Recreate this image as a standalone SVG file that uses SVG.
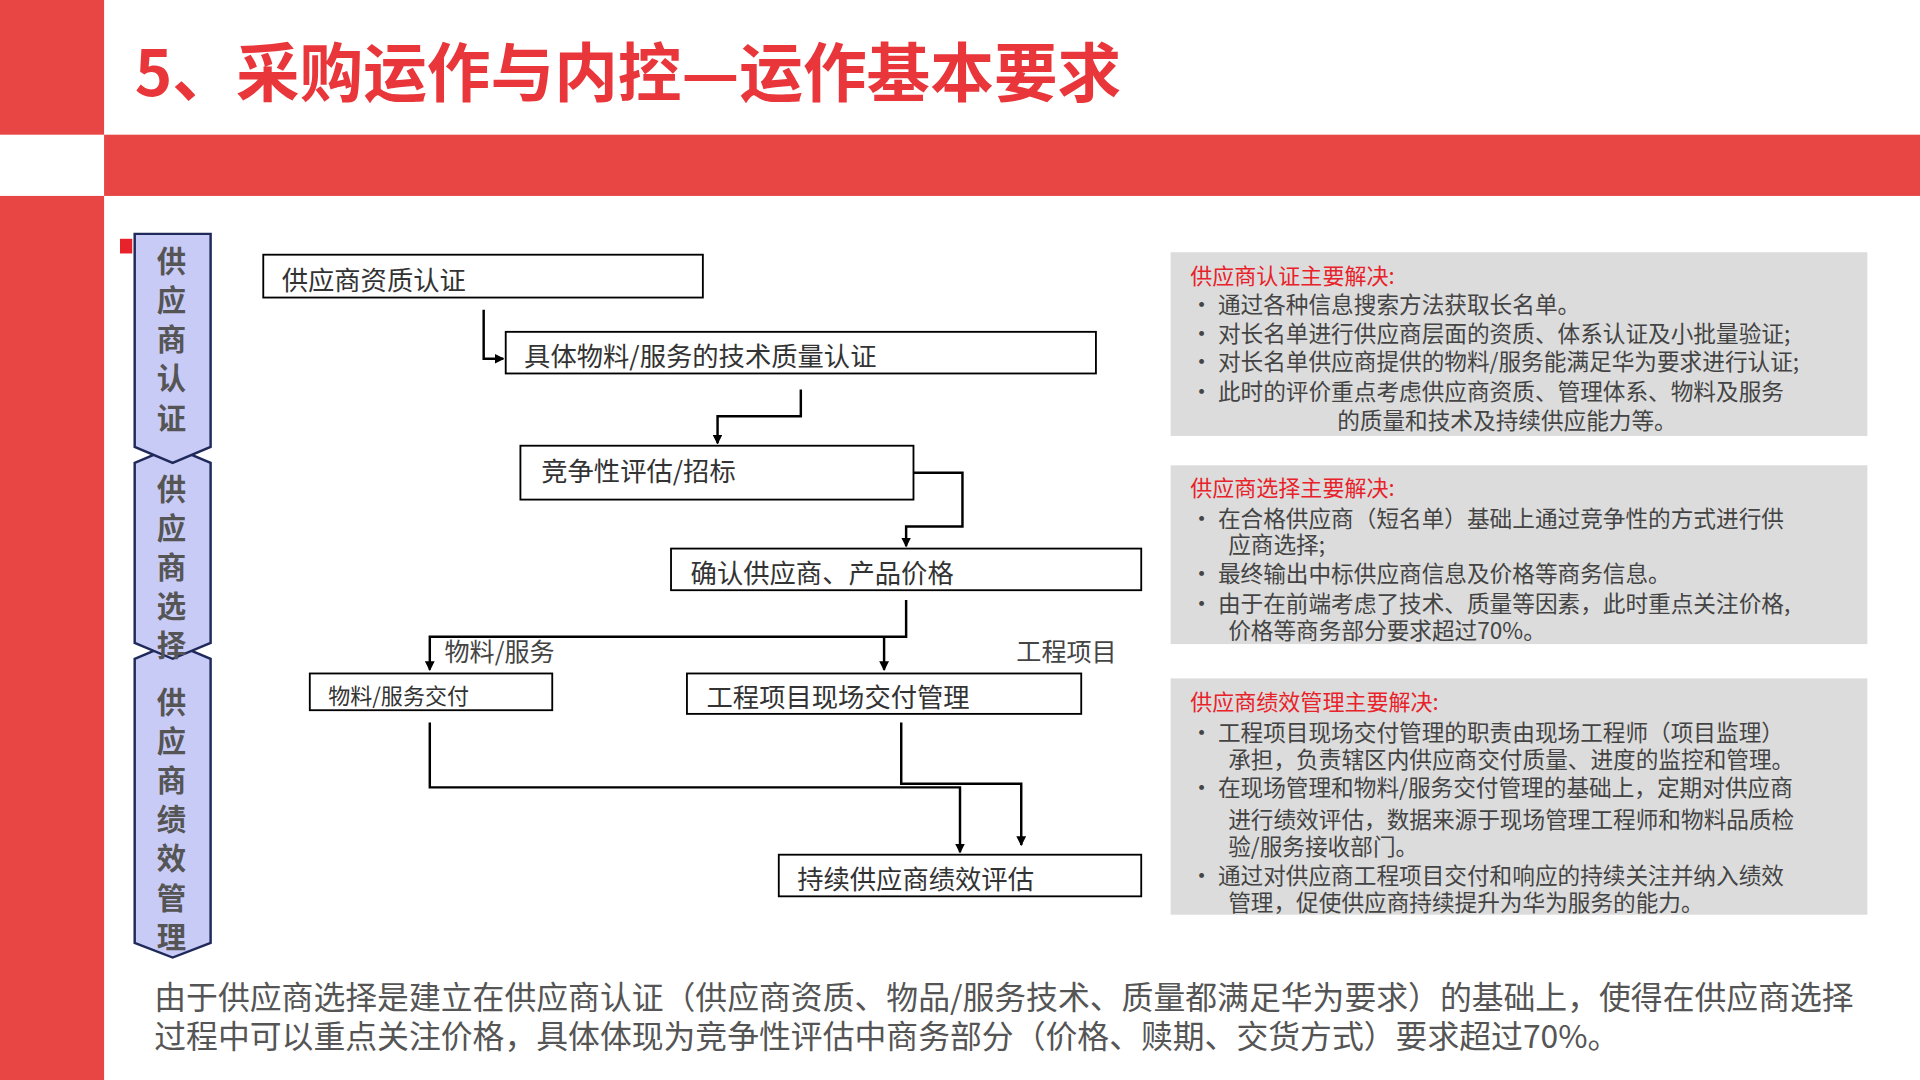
<svg xmlns="http://www.w3.org/2000/svg" width="1920" height="1080" viewBox="0 0 1920 1080">
<defs>
<marker id="ar" markerWidth="8" markerHeight="8" refX="7" refY="4" orient="auto" markerUnits="userSpaceOnUse"><path d="M0,0 L8,4 L0,8 z" fill="#000"/></marker>
<style>
text{font-family:"Noto Sans CJK SC","Liberation Sans",sans-serif}
.box{fill:#fff;stroke:#000;stroke-width:1.5}
.bt{font-size:21.5px;fill:#333}
.ln{fill:none;stroke:#000;stroke-width:2}
.chev{fill:#C9CBF7;stroke:#1F2A5A;stroke-width:2}
.ct{font-size:24px;font-weight:bold;fill:#555;text-anchor:middle}
.pan{fill:#DCDCDC}
.ph{font-size:18px;fill:#E8222A}
.pt{font-size:18.5px;fill:#444}
</style>
</defs>
<rect width="1920" height="1080" fill="#fff"/>
<g transform="scale(1.2245)">
<rect x="0" y="0" width="85" height="110" fill="#E84545"/>
<rect x="0" y="160" width="85" height="722" fill="#E84545"/>
<rect x="85" y="110" width="1483" height="50" fill="#E84545"/>
<text x="110" y="78" font-size="52" font-weight="bold" fill="#E8363A">5、采购运作与内控—运作基本要求</text>
<rect x="98" y="195" width="10" height="12" fill="#E8222A"/>
<g id="stage3"><path class="chev" d="M110,538 L141,525 L172,538 V770 L141,782 L110,770 Z"/></g>
<g id="stage2"><path class="chev" d="M110,378 L141,365 L172,378 V525 L141,538 L110,525 Z"/></g>
<g id="stage1"><path class="chev" d="M110,191 H172 V365 L141,378 L110,365 Z"/></g>
<text class="ct"><tspan x="140" y="222">供</tspan><tspan x="140" y="254">应</tspan><tspan x="140" y="286">商</tspan><tspan x="140" y="318">认</tspan><tspan x="140" y="350">证</tspan></text>
<text class="ct"><tspan x="140" y="408">供</tspan><tspan x="140" y="440">应</tspan><tspan x="140" y="472">商</tspan><tspan x="140" y="504">选</tspan><tspan x="140" y="536">择</tspan></text>
<text class="ct"><tspan x="140" y="582">供</tspan><tspan x="140" y="614">应</tspan><tspan x="140" y="646">商</tspan><tspan x="140" y="678">绩</tspan><tspan x="140" y="710">效</tspan><tspan x="140" y="742">管</tspan><tspan x="140" y="774">理</tspan></text>
<g id="connectors">
<path class="ln" d="M395,253 V293 H411" marker-end="url(#ar)"/>
<path class="ln" d="M654,318 V340 H586 V362" marker-end="url(#ar)"/>
<path class="ln" d="M746,386 H786 V430 H740 V446" marker-end="url(#ar)"/>
<path class="ln" d="M740,490 V520 H351 V547" marker-end="url(#ar)"/>
<path class="ln" d="M722,520 V547" marker-end="url(#ar)"/>
<path class="ln" d="M351,590 V643 H784 V696" marker-end="url(#ar)"/>
<path class="ln" d="M736,590 V640 H834 V690" marker-end="url(#ar)"/>
<text x="363" y="540" font-size="20.5" fill="#444">物料/服务</text>
<text x="830" y="540" font-size="20.5" fill="#444">工程项目</text>
</g>
<g id="n1"><rect class="box" x="215" y="208" width="359" height="35"/><text class="bt" x="230" y="237">供应商资质认证</text></g>
<g id="n2"><rect class="box" x="413" y="271" width="482" height="34"/><text class="bt" x="428" y="299">具体物料/服务的技术质量认证</text></g>
<g id="n3"><rect class="box" x="425" y="364" width="321" height="44"/><text class="bt" x="442" y="393">竞争性评估/招标</text></g>
<g id="n4"><rect class="box" x="548" y="448" width="384" height="34"/><text class="bt" x="564" y="476">确认供应商、产品价格</text></g>
<g id="n5"><rect class="box" x="253" y="550" width="198" height="30"/><text x="268" y="575" font-size="18" fill="#333">物料/服务交付</text></g>
<g id="n6"><rect class="box" x="561" y="550" width="322" height="33"/><text class="bt" x="577" y="577">工程项目现场交付管理</text></g>
<g id="n7"><rect class="box" x="636" y="698" width="296" height="34"/><text class="bt" x="651" y="726">持续供应商绩效评估</text></g>
<g id="p1"><rect class="pan" x="956" y="206" width="569" height="150"/>
<text class="ph" x="972" y="232">供应商认证主要解决:</text>
<text class="pt"><tspan x="972" y="256">•    通过各种信息搜索方法获取长名单。</tspan><tspan x="972" y="279">•    对长名单进行供应商层面的资质、体系认证及小批量验证;</tspan><tspan x="972" y="302">•    对长名单供应商提供的物料/服务能满足华为要求进行认证;</tspan><tspan x="972" y="327">•    此时的评价重点考虑供应商资质、管理体系、物料及服务</tspan><tspan x="1092" y="350">的质量和技术及持续供应能力等。</tspan></text></g>
<g id="p2"><rect class="pan" x="956" y="380" width="569" height="146"/>
<text class="ph" x="972" y="405">供应商选择主要解决:</text>
<text class="pt"><tspan x="972" y="430">• 在合格供应商（短名单）基础上通过竞争性的方式进行供</tspan><tspan x="1003" y="452">应商选择;</tspan><tspan x="972" y="475">•    最终输出中标供应商信息及价格等商务信息。</tspan><tspan x="972" y="500">• 由于在前端考虑了技术、质量等因素，此时重点关注价格,</tspan><tspan x="1003" y="522">价格等商务部分要求超过70%。</tspan></text></g>
<g id="p3"><rect class="pan" x="956" y="554" width="569" height="193"/>
<text class="ph" x="972" y="580">供应商绩效管理主要解决:</text>
<text class="pt"><tspan x="972" y="605">• 工程项目现场交付管理的职责由现场工程师（项目监理）</tspan><tspan x="1003" y="627">承担，负责辖区内供应商交付质量、进度的监控和管理。</tspan><tspan x="972" y="650">•    在现场管理和物料/服务交付管理的基础上，定期对供应商</tspan><tspan x="1003" y="676">进行绩效评估，数据来源于现场管理工程师和物料品质检</tspan><tspan x="1003" y="698">验/服务接收部门。</tspan><tspan x="972" y="722">• 通过对供应商工程项目交付和响应的持续关注并纳入绩效</tspan><tspan x="1003" y="744">管理，促使供应商持续提升为华为服务的能力。</tspan></text></g>
<text font-size="26" fill="#555"><tspan x="126" y="824">由于供应商选择是建立在供应商认证（供应商资质、物品/服务技术、质量都满足华为要求）的基础上，使得在供应商选择</tspan><tspan x="126" y="856">过程中可以重点关注价格，具体体现为竞争性评估中商务部分（价格、赎期、交货方式）要求超过70%。</tspan></text>
</g>
</svg>
